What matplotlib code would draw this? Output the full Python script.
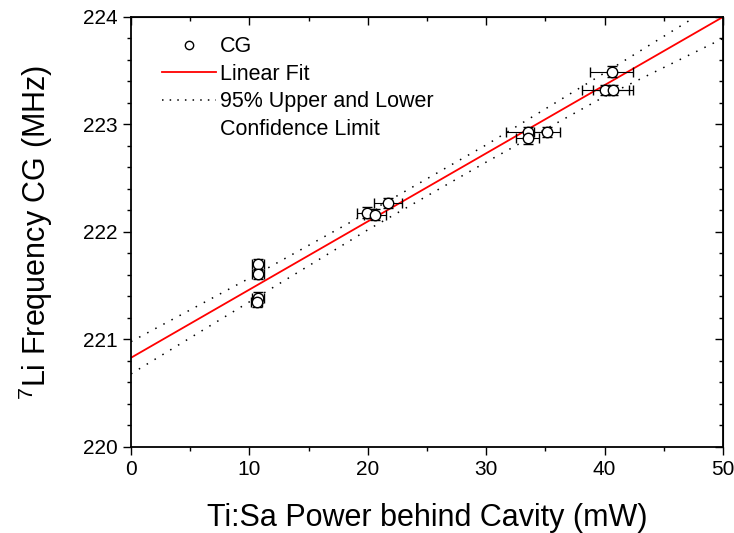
#!/usr/bin/env python3
"""7Li CG frequency vs Ti:Sa power behind the cavity, with linear fit
and 95% confidence band."""

import matplotlib
matplotlib.use("Agg")
import matplotlib.pyplot as plt
from matplotlib.lines import Line2D
from matplotlib.ticker import MultipleLocator

plt.rcParams["font.family"] = ["Liberation Sans", "DejaVu Sans"]
plt.rcParams["mathtext.fontset"] = "custom"
plt.rcParams["mathtext.rm"] = "Liberation Sans"

power_mw = [10.75, 10.75, 10.7, 10.6, 21.7, 19.9, 20.6, 33.5, 35.1, 33.5, 40.6, 40.05, 40.7]
freq_mhz = [221.70, 221.61, 221.39, 221.35, 222.27, 222.18, 222.16,
            222.93, 222.93, 222.87, 223.49, 223.32, 223.32]
power_err = [0.5, 0.5, 0.5, 0.5, 1.15, 0.8, 0.9, 1.8, 1.1, 1.0, 1.8, 2.0, 1.7]
freq_err = [0.05] * 13

# linear fit and 95% confidence limits
fit_x = [0, 50]
fit_y = [220.83, 224.0]
band_x = [0, 10, 20, 30, 40, 50]
band_upper = [220.98, 221.57, 222.18, 222.81, 223.48, 224.16]
band_lower = [220.68, 221.35, 222.02, 222.65, 223.26, 223.80]


def main():
    fig = plt.figure(figsize=(7.34, 5.33), dpi=100)
    ax = fig.add_axes([0.1785, 0.1614, 0.8065, 0.8068])

    ax.plot(band_x, band_upper, color="black", linewidth=1.1, linestyle=(0, (1, 5)))
    ax.plot(band_x, band_lower, color="black", linewidth=1.1, linestyle=(0, (1, 5)))
    ax.plot(fit_x, fit_y, color="red", linewidth=1.3)
    ax.errorbar(power_mw, freq_mhz, xerr=power_err, yerr=freq_err, fmt="o",
                markersize=7.5, markerfacecolor="white", markeredgecolor="black",
                markeredgewidth=1.0, ecolor="black", elinewidth=0.8, capsize=3.5,
                capthick=0.8, zorder=5)

    ax.set_xlim(0, 50)
    ax.set_ylim(220, 224)
    ax.xaxis.set_major_locator(MultipleLocator(10))
    ax.xaxis.set_minor_locator(MultipleLocator(5))
    ax.yaxis.set_major_locator(MultipleLocator(1))
    ax.yaxis.set_minor_locator(MultipleLocator(0.2))
    ax.tick_params(which="major", direction="out", length=6, width=1, labelsize=15)
    ax.tick_params(which="minor", direction="out", length=3, width=1)
    for spine in ax.spines.values():
        spine.set_linewidth(1.3)

    # mirrored ticks pointing inward on top and right
    top = ax.secondary_xaxis("top")
    top.xaxis.set_major_locator(MultipleLocator(10))
    top.xaxis.set_minor_locator(MultipleLocator(5))
    top.tick_params(which="major", direction="in", length=6, width=1, labeltop=False)
    top.tick_params(which="minor", direction="in", length=3, width=1)
    right = ax.secondary_yaxis("right")
    right.yaxis.set_major_locator(MultipleLocator(1))
    right.yaxis.set_minor_locator(MultipleLocator(0.2))
    right.tick_params(which="major", direction="in", length=6, width=1, labelright=False)
    right.tick_params(which="minor", direction="in", length=3, width=1)

    ax.set_xlabel("Ti:Sa Power behind Cavity (mW)", fontsize=22, labelpad=17)
    ax.set_ylabel("$^{7}$Li Frequency CG (MHz)", fontsize=22, labelpad=20)

    handles = [
        Line2D([], [], marker="o", linestyle="none", markersize=6,
               markerfacecolor="white", markeredgecolor="black"),
        Line2D([], [], color="red", linewidth=1.3),
        Line2D([], [], color="black", linewidth=1.1, linestyle=(0, (1, 4))),
        Line2D([], [], linestyle="none"),
    ]
    labels = ["CG", "Linear Fit", "95% Upper and Lower", "Confidence Limit"]
    ax.legend(handles, labels, loc="upper left", bbox_to_anchor=(0.03, 0.985),
              frameon=False, fontsize=15.5, handlelength=2.5, handletextpad=0.2,
              labelspacing=0.3, borderaxespad=0.2)

    fig.savefig("out.png", dpi=100)


if __name__ == "__main__":
    main()
